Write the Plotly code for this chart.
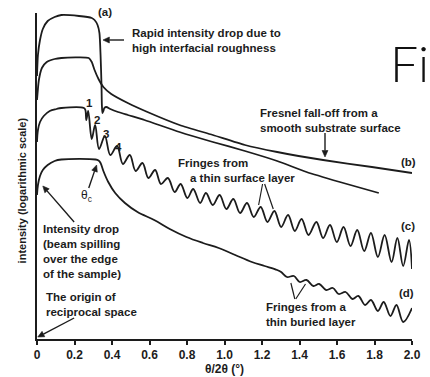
import math
import plotly.graph_objects as go

# Schematic X-ray reflectivity curves (log intensity, arbitrary units) vs theta/2theta
theta_a = [0, 0.005, 0.016, 0.031, 0.057, 0.094, 0.130, 0.224, 0.292, 0.307, 0.323, 0.333, 0.339,
           0.344, 0.346, 0.349, 0.354, 0.359, 0.370, 0.391, 0.432, 0.484, 0.573, 0.760, 0.938,
           1.109, 1.281, 1.4375, 1.615, 1.823]
logI_a = [263, 284, 299, 310, 318, 322, 324, 323, 321, 319, 314, 306, 284,
          254, 234, 226, 228, 231, 232, 230, 227, 224, 219, 207, 197,
          188, 178, 167, 157, 146]

theta_b = [0, 0.010, 0.026, 0.052, 0.094, 0.130, 0.276, 0.292, 0.307, 0.328, 0.354, 0.396, 0.484,
           0.589, 0.760, 0.938, 1.109, 1.281, 1.526, 1.786, 2.0]
logI_b = [239, 259, 271, 277, 280, 281, 281, 277, 269, 260, 252, 245, 236,
          227, 214, 204, 194, 187, 179, 172, 166]

theta_c = [0, 0.005, 0.016, 0.036, 0.068, 0.104, 0.130, 0.250, 0.258, 0.263, 0.273, 0.292, 0.310,
           0.331, 0.362, 0.391, 0.427, 0.458, 0.495, 0.526, 0.5625, 0.594, 0.630, 0.661, 0.698,
           0.734, 0.766, 0.802, 0.833, 0.870, 0.901, 0.9375, 0.974, 1.010, 1.047, 1.083, 1.120,
           1.156, 1.193, 1.229, 1.266, 1.302, 1.339, 1.375, 1.411, 1.448, 1.490, 1.526, 1.5625,
           1.599, 1.635, 1.672, 1.708, 1.745, 1.781, 1.818, 1.854, 1.891, 1.922, 1.953, 1.984, 2.0]
logI_c = [197, 209, 217, 223, 228, 230, 231, 231, 229, 219, 228, 200, 214,
          190, 203, 184, 193, 175, 184, 168, 176, 161, 169, 155, 161,
          147, 155, 141, 150, 136, 146, 134, 144, 130, 140, 126, 136,
          122, 132, 117, 128, 112, 124, 108, 120, 104, 117, 101, 114,
          97, 112, 93, 109, 88, 106, 82, 104, 77, 101, 73, 99, 70]

theta_d = [0, 0.005, 0.016, 0.031, 0.057, 0.094, 0.130, 0.3125, 0.328, 0.339, 0.354, 0.380, 0.417,
           0.469, 0.536, 0.625, 0.708, 0.797, 0.885, 0.969, 1.057, 1.146, 1.214, 1.281, 1.302,
           1.333, 1.370, 1.401, 1.4375, 1.474, 1.505, 1.542, 1.578, 1.609, 1.646, 1.682, 1.714,
           1.750, 1.781, 1.818, 1.849, 1.885, 1.917, 1.953, 2.0]
logI_d = [144, 154, 163, 169, 174, 178, 179.5, 179.5, 178.5, 176, 168, 157, 146,
          136, 127, 119, 110, 102, 96, 91, 84, 77, 73, 69, 67,
          62, 63, 57, 59, 53, 55, 49, 51, 45, 47, 40, 43,
          34, 39, 28, 37, 23, 34, 17, 31]

tick_vals = [0, 0.2, 0.4, 0.6, 0.8, 1.0, 1.2, 1.4, 1.6, 1.8, 2.0]
tick_text = ["0", "0.2", "0.4", "0.6", "0.8", "1.0", "1.2", "1.4", "1.6", "1.8", "2.0"]

INK = "#1c1c1c"
FONT = "Liberation Sans"
X_RANGE = [0, 2.0]
Y_RANGE = [0, 326]
PLOT_W, PLOT_H = 384, 326
SX = PLOT_W / (X_RANGE[1] - X_RANGE[0])   # pixels per degree
SY = PLOT_H / (Y_RANGE[1] - Y_RANGE[0])   # pixels per intensity unit

fig = go.Figure()
curves = [(theta_a, logI_a, 0.6), (theta_b, logI_b, 0.6), (theta_c, logI_c, 1.0), (theta_d, logI_d, 1.0)]
for xs, ys, sm in curves:
    fig.add_trace(go.Scatter(x=xs, y=ys, mode="lines",
                             line=dict(color=INK, width=1.8, shape="spline", smoothing=sm),
                             showlegend=False, hoverinfo="skip"))


def label(x, y, text, size=11.5, anchor="left", ref="x"):
    return dict(x=x, y=y, xref="x" if ref == "x" else "paper", yref="y" if ref == "x" else "paper",
                text=text, showarrow=False, xanchor=anchor, yanchor="middle", align="left",
                font=dict(family=FONT, size=size, color=INK, weight="bold"))


def add_arrow(tip, tail, head=6.5, half=3.0):
    """Arrow shaft and filled head drawn as two small line traces."""
    dx = (tip[0] - tail[0]) * SX
    dy = (tip[1] - tail[1]) * SY
    n = math.hypot(dx, dy)
    ux, uy = dx / n, dy / n
    bx = tip[0] - head * ux / SX
    by = tip[1] - head * uy / SY
    lx, ly = bx - half * uy / SX, by + half * ux / SY
    rx, ry = bx + half * uy / SX, by - half * ux / SY
    fig.add_trace(go.Scatter(x=[tail[0], bx], y=[tail[1], by], mode="lines",
                             line=dict(color=INK, width=1.4), cliponaxis=False,
                             showlegend=False, hoverinfo="skip"))
    fig.add_trace(go.Scatter(x=[tip[0], lx, rx, tip[0]], y=[tip[1], ly, ry, tip[1]],
                             mode="lines", fill="toself", fillcolor=INK,
                             line=dict(color=INK, width=0.6), cliponaxis=False,
                             showlegend=False, hoverinfo="skip"))


def stroke(p0, p1):
    return dict(type="line", xref="x", yref="y", x0=p0[0], y0=p0[1], x1=p1[0], y1=p1[1],
                line=dict(color=INK, width=1.2))


add_arrow((0.352, 299), (0.464, 299))      # rapid intensity drop
add_arrow((1.536, 182), (1.536, 206))      # Fresnel fall-off
add_arrow((0.318, 174), (0.276, 151))      # critical angle
add_arrow((0.031, 153), (0.198, 117))      # beam spill-over
add_arrow((0.004, 2), (0.198, 21))         # origin of reciprocal space

annotations = [
    label(0.182, 1.003, "(a)", anchor="center", ref="paper"),
    label(0.495, 299, "Rapid intensity drop due to<br>high interfacial roughness"),
    label(1.18, 219, "Fresnel fall-off from a<br>smooth substrate surface"),
    label(1.979, 177, "(b)", anchor="center"),
    label(1.979, 113, "(c)", anchor="center"),
    label(1.969, 46, "(d)", anchor="center"),
    label(0.279, 236, "1", anchor="center"),
    label(0.318, 219, "2", anchor="center"),
    label(0.370, 205, "3", anchor="center"),
    label(0.435, 192, "4", anchor="center"),
    dict(x=0.262, y=143, xref="x", yref="y", text="θ<sub>c</sub>", showarrow=False,
         xanchor="center", yanchor="middle", font=dict(family=FONT, size=12, color=INK)),
    label(0.740, 176, "Fringes from"),
    label(0.807, 161, "a thin surface layer"),
    label(1.209, 25, "Fringes from a<br>thin buried layer"),
    label(0.021, 88, "Intensity drop<br>(beam spilling<br>over the edge<br>of the sample)"),
    label(0.037, 34.5, "The origin of<br>reciprocal space"),
    dict(x=0.935, y=0.847, xref="paper", yref="paper", text="Fi", showarrow=False,
         xanchor="left", yanchor="middle",
         font=dict(family="Lato", size=50, color="#111111", weight=300)),
    dict(x=-0.039, y=0.457, xref="paper", yref="paper", text="intensity (logarithmic scale)",
         showarrow=False, textangle=-90, xanchor="center", yanchor="middle",
         font=dict(family=FONT, size=11, color=INK, weight="bold")),
    dict(x=0.501, y=-0.093, xref="paper", yref="paper", text="θ/2θ (°)", showarrow=False,
         xanchor="center", yanchor="middle",
         font=dict(family=FONT, size=12, color=INK, weight="bold")),
]

shapes = [
    stroke((1.203, 155), (1.182, 134)),
    stroke((1.214, 155), (1.260, 130)),
    stroke((1.375, 40), (1.354, 56)),
    stroke((1.380, 40), (1.432, 55)),
]

fig.update_layout(
    width=430, height=377,
    margin=dict(l=37, r=9, t=13, b=38),
    paper_bgcolor="white", plot_bgcolor="white",
    font=dict(family=FONT, color=INK),
    annotations=annotations, shapes=shapes,
    xaxis=dict(range=X_RANGE, tickvals=tick_vals, ticktext=tick_text,
               showgrid=False, zeroline=False, showline=True, linecolor=INK, linewidth=2,
               ticks="outside", ticklen=4, tickwidth=1.5, tickcolor=INK,
               tickfont=dict(family=FONT, size=12, color=INK, weight="bold")),
    yaxis=dict(range=Y_RANGE, showgrid=False, zeroline=False, showline=True,
               linecolor=INK, linewidth=2, showticklabels=False, ticks=""),
)

fig.write_html("out.html")
